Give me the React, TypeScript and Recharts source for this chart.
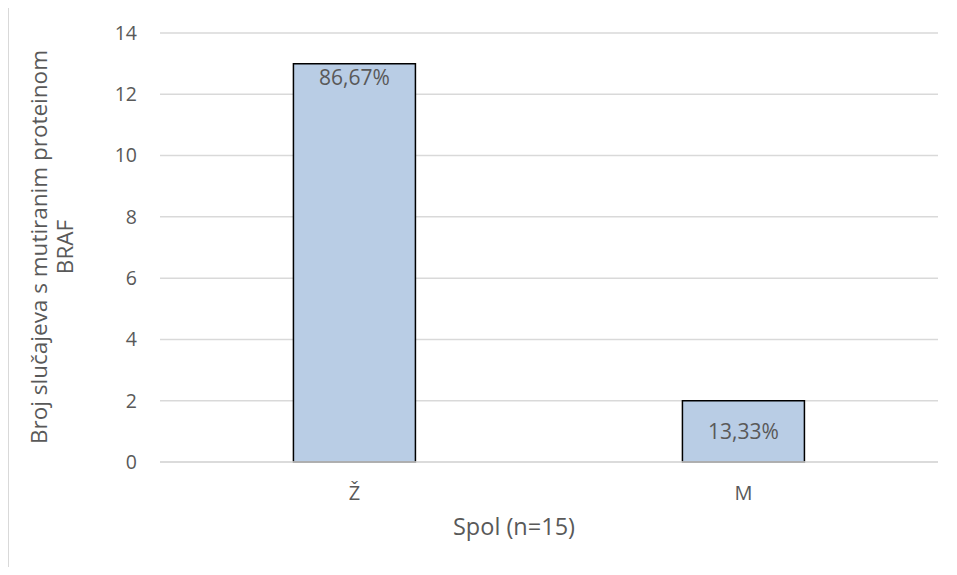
import { BarChart, Bar, XAxis, YAxis, CartesianGrid, LabelList } from "recharts";

const categories = ["Ž", "M"];
const counts = [13, 2];
const percentLabels = ["86,67%", "13,33%"];
const yTicks = [0, 2, 4, 6, 8, 10, 12, 14];

const data = categories.map((name, i) => ({ name, value: counts[i], pct: percentLabels[i] }));

const FONT = "'Open Sans', sans-serif";
const TEXT = "#595959";

function BarLabel(props: any) {
  const { x, y, width, height, value } = props;
  // tall bar: label just inside the top; short bar: centered
  const cy = height > 100 ? y + 13 : y + height / 2;
  return (
    <text
      x={x + width / 2}
      y={cy}
      textAnchor="middle"
      dominantBaseline="central"
      fill={TEXT}
      fontSize={21}
      fontFamily={FONT}
    >
      {value}
    </text>
  );
}

function YTitle() {
  const cy = 247;
  return (
    <g fontFamily={FONT} fontSize={22.5} fill={TEXT}>
      <text x={38} y={cy} textAnchor="middle" dominantBaseline="central" transform={`rotate(-90 38 ${cy})`}>
        Broj slučajeva s mutiranim proteinom
      </text>
      <text x={64} y={cy} textAnchor="middle" dominantBaseline="central" transform={`rotate(-90 64 ${cy})`}>
        BRAF
      </text>
    </g>
  );
}

function XTitle(props: any) {
  const { viewBox } = props;
  return (
    <text x={viewBox.x + viewBox.width / 2 - 35} y={535} textAnchor="middle" fill={TEXT} fontSize={23.5} fontFamily={FONT}>
      Spol (n=15)
    </text>
  );
}

export default function App() {
  return (
    <div style={{ position: "relative", margin: -8, width: 957, height: 575, overflow: "hidden", background: "#fff" }}>
      <div style={{ position: "absolute", left: 0, top: 0 }}>
        <BarChart
          width={957}
          height={575}
          data={data}
          margin={{ top: 33, right: 19, left: 100, bottom: 73 }}
          barCategoryGap="34.3%"
        >
          <CartesianGrid vertical={false} stroke="#d9d9d9" strokeWidth={1.5} />
          <XAxis
            dataKey="name"
            height={40}
            axisLine={{ stroke: "#d9d9d9", strokeWidth: 1.5 }}
            tickLine={false}
            tickMargin={18}
            tick={{ fill: TEXT, fontSize: 20, fontFamily: FONT }}
            label={{ content: <XTitle /> } as any}
          />
          <YAxis
            width={60}
            domain={[0, 14]}
            ticks={yTicks}
            axisLine={false}
            tickLine={false}
            tickMargin={17}
            tick={{ fill: TEXT, fontSize: 19.5, fontFamily: FONT }}
            label={{ content: <YTitle /> } as any}
          />
          <Bar dataKey="value" fill="#B9CDE5" stroke="#000" strokeWidth={1.5} isAnimationActive={false}>
            <LabelList dataKey="pct" content={<BarLabel />} />
          </Bar>
        </BarChart>
      </div>
      <div
        style={{
          position: "absolute",
          left: 7,
          top: 4,
          width: 990,
          height: 640,
          boxSizing: "border-box",
          border: "2px solid #d9d9d9",
          pointerEvents: "none",
        }}
      />
    </div>
  );
}
